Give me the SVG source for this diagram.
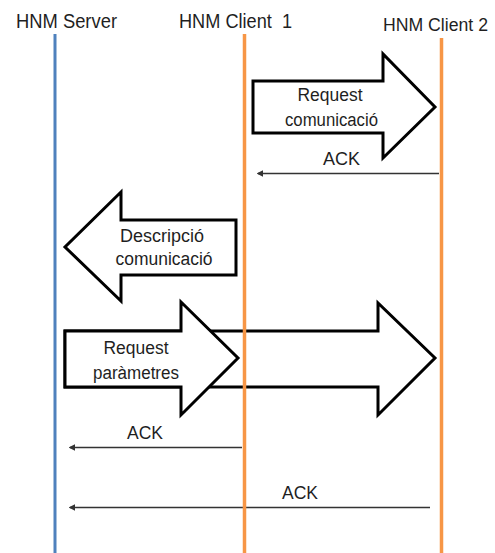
<svg xmlns="http://www.w3.org/2000/svg" width="495" height="553" viewBox="0 0 495 553">
  <style>
    text { font-family: "Liberation Sans", Arial, sans-serif; fill: #1f1f1f; }
    .title { font-size: 20px; white-space: pre; }
    .lbl { font-size: 18px; text-anchor: middle; }
    .big { fill: #ffffff; stroke: #000000; stroke-width: 3; stroke-linejoin: miter; }
    .ack { stroke: #333333; stroke-width: 1.3; fill: none; marker-end: url(#ah); }
    .blue { stroke: #4F81BD; stroke-width: 3; }
    .orange { stroke: #F79646; stroke-width: 3.5; }
  </style>
  <defs>
    <marker id="ah" viewBox="0 0 10 10" refX="8" refY="5" markerWidth="5" markerHeight="5" orient="auto" markerUnits="strokeWidth">
      <path d="M0,0 L10,5 L0,10 Z" fill="#333333"/>
    </marker>
  </defs>
  <rect width="495" height="553" fill="#ffffff"/>

  <g id="connectors">
    <g id="msg-request-comunicacio">
      <path class="big" d="M253,81 L383,81 L383,54 L435,107 L383,158 L383,133 L253,133 Z"/>
      <text class="lbl" x="330" y="100.5" textLength="65" lengthAdjust="spacingAndGlyphs">Request</text>
      <text class="lbl" x="331.5" y="126" textLength="93" lengthAdjust="spacingAndGlyphs">comunicació</text>
    </g>
    <g id="msg-ack-1">
      <line class="ack" x1="439" y1="173.5" x2="258" y2="173.5"/>
      <text class="lbl" x="341.5" y="165" textLength="37" lengthAdjust="spacingAndGlyphs">ACK</text>
    </g>
    <g id="msg-descripcio">
      <path class="big" d="M236,220 L121,220 L121,192 L65,247 L121,301 L121,275 L236,275 Z"/>
      <text class="lbl" x="162" y="241.5" textLength="84" lengthAdjust="spacingAndGlyphs">Descripció</text>
      <text class="lbl" x="164" y="265" textLength="97" lengthAdjust="spacingAndGlyphs">comunicació</text>
    </g>
    <g id="msg-request-parametres-c2">
      <path class="big" d="M65,331 L378,331 L378,303 L435,358 L378,415 L378,387 L65,387 Z"/>
    </g>
    <g id="msg-request-parametres-c1">
      <path class="big" d="M65,331 L181,331 L181,302 L238,358 L181,415 L181,387 L65,387 Z"/>
      <text class="lbl" x="136" y="353.5" textLength="65" lengthAdjust="spacingAndGlyphs">Request</text>
      <text class="lbl" x="136" y="378.5" textLength="86" lengthAdjust="spacingAndGlyphs">paràmetres</text>
    </g>
    <g id="msg-ack-2">
      <line class="ack" x1="242" y1="447.5" x2="70" y2="447.5"/>
      <text class="lbl" x="145" y="439" textLength="36" lengthAdjust="spacingAndGlyphs">ACK</text>
    </g>
    <g id="msg-ack-3">
      <line class="ack" x1="430" y1="507.5" x2="70" y2="507.5"/>
      <text class="lbl" x="300" y="499" textLength="36" lengthAdjust="spacingAndGlyphs">ACK</text>
    </g>
  </g>

  <g id="hnm-server">
    <line class="blue" x1="55" y1="34" x2="55" y2="553"/>
    <text class="title" x="16" y="28" textLength="101" lengthAdjust="spacingAndGlyphs">HNM Server</text>
  </g>
  <g id="hnm-client-1">
    <line class="orange" x1="244.5" y1="34" x2="244.5" y2="553"/>
    <text class="title" x="179" y="28" textLength="113" lengthAdjust="spacingAndGlyphs">HNM Client  1</text>
  </g>
  <g id="hnm-client-2">
    <line class="orange" x1="441.5" y1="38" x2="441.5" y2="553"/>
    <text class="title" x="383" y="31" style="font-size:18px" textLength="105" lengthAdjust="spacingAndGlyphs">HNM Client 2</text>
  </g>
</svg>
